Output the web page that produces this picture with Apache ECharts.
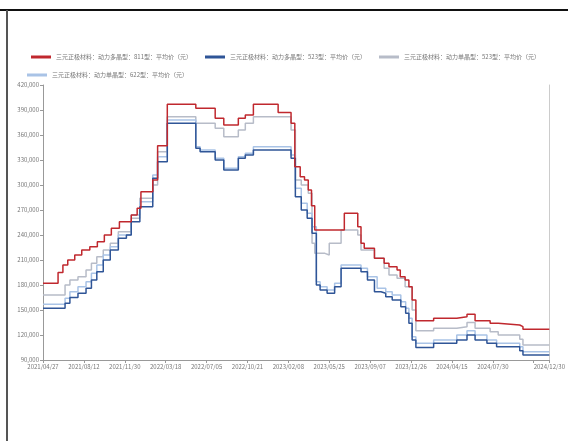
<!DOCTYPE html>
<html><head><meta charset="utf-8">
<script src="https://cdn.jsdelivr.net/npm/echarts@6/dist/echarts.min.js"></script>
<style>html,body{margin:0;padding:0;background:#fff}#c{width:568px;height:441px}</style>
</head><body><div id="c"></div>
<script>
var seriesNames = [
  '三元正极材料：动力多晶型：811型：平均价（元）',
  '三元正极材料：动力多晶型：523型：平均价（元）',
  '三元正极材料：动力单晶型：523型：平均价（元）',
  '三元正极材料：动力单晶型：622型：平均价（元）'
];
var tickLabels = ['2021/04/27','2021/08/12','2021/11/30','2022/03/18','2022/07/05','2022/10/21','2023/02/08','2023/05/25','2023/09/07','2023/12/26','2024/04/15','2024/07/30',''];
var lastLabel = '2024/12/30';
var dayStep = 76, lastDay = 941;
var yTicks = [90000, 420000, 30000];

var red811 = [[0,182000],[28,195000],[37,204000],[46,210000],[59,216000],[72,222000],[87,226000],[101,232000],[114,240000],[127,248000],[142,256000],[164,264000],[175,272000],[182,292000],[204,306000],[213,347000],[231,397000],[284,392000],[320,380000],[336,372000],[363,380000],[376,384000],[391,397000],[437,387000],[461,374000],[468,322000],[478,310000],[486,306000],[493,294000],[499,275000],[505,246000],[560,266000],[585,250000],[591,230000],[597,224000],[616,212000],[634,206000],[643,202000],[658,198000],[664,190000],[673,186000],[680,178000],[686,162000],[693,137000],[726,140000],[769,142000],[788,145000],[803,137000],[831,134000],[846,132000],[886,130000],[892,127000],[941,127000]];
var poly523 = [[0,152000],[41,158000],[50,165000],[65,170000],[80,176000],[90,186000],[100,196000],[112,210000],[125,222000],[140,236000],[155,240000],[164,256000],[180,274000],[204,308000],[213,328000],[231,374000],[284,344000],[292,340000],[320,330000],[336,318000],[363,332000],[376,336000],[391,342000],[461,332000],[469,286000],[480,270000],[491,260000],[500,242000],[508,180000],[515,174000],[528,170000],[542,178000],[554,200000],[591,196000],[603,186000],[616,172000],[628,170000],[637,166000],[649,162000],[665,154000],[674,146000],[680,134000],[686,114000],[693,105000],[726,110000],[769,114000],[788,120000],[803,114000],[825,110000],[843,106000],[886,101000],[892,96000],[941,96000]];
var single523 = [[0,168000],[41,180000],[50,186000],[65,190000],[80,198000],[90,206000],[100,214000],[112,222000],[125,230000],[140,244000],[164,260000],[180,284000],[204,300000],[213,340000],[231,382000],[284,374000],[320,368000],[336,358000],[363,366000],[376,374000],[391,382000],[461,366000],[469,306000],[480,300000],[493,290000],[500,230000],[505,218000],[524,216000],[532,230000],[554,246000],[585,240000],[591,222000],[616,212000],[634,200000],[643,192000],[658,188000],[673,178000],[686,150000],[693,125000],[726,128000],[769,130000],[788,135000],[803,128000],[831,124000],[846,120000],[886,115000],[892,108000],[941,108000]];
var single622 = [[0,157000],[41,164000],[50,172000],[65,178000],[80,184000],[90,194000],[100,204000],[112,216000],[125,226000],[140,240000],[164,264000],[180,280000],[204,312000],[213,334000],[231,378000],[284,346000],[292,342000],[320,332000],[336,320000],[363,334000],[376,338000],[391,346000],[461,336000],[469,296000],[480,278000],[491,266000],[500,250000],[508,184000],[515,178000],[528,174000],[542,182000],[554,204000],[591,200000],[603,190000],[621,176000],[637,172000],[649,168000],[665,160000],[674,152000],[680,140000],[686,118000],[693,110000],[726,114000],[769,120000],[788,125000],[803,120000],[825,114000],[843,110000],[886,106000],[892,100000],[941,100000]];

var colors = ['#c0282e', '#2f5597', '#b7bcc8', '#a9c3e6'];
var allData = [red811, poly523, single523, single622];

var chart = echarts.init(document.getElementById('c'), null, {renderer:'canvas'});
var series = allData.map(function(d, i){
  return {
    name: seriesNames[i], type: 'line', step: 'end', data: d,
    showSymbol: false, symbol: 'none',
    lineStyle: {color: colors[i], width: 1.5},
    itemStyle: {color: colors[i]},
    z: i === 0 ? 5 : (i === 1 ? 4 : 3)
  };
});
var legendBase = {
  itemWidth: 20, itemHeight: 3, itemGap: 13,
  icon: 'rect', orient: 'horizontal',
  textStyle: {fontSize: 6, color: '#777', padding: [0, 0, 0, 0]}
};
chart.setOption({
  animation: false,
  color: colors,
  textStyle: {fontFamily: 'Noto Sans CJK SC'},
  legend: [
    Object.assign({}, legendBase, {left: 26, top: 49, width: 560, data: seriesNames.slice(0, 3)}),
    Object.assign({}, legendBase, {left: 22, top: 67, width: 560, data: seriesNames.slice(3)})
  ],
  grid: {left: 43, right: 15, top: 85, bottom: 81, containLabel: false},
  xAxis: {
    type: 'value', min: 0, max: lastDay, interval: dayStep,
    axisLine: {lineStyle: {color: '#999'}},
    axisTick: {show: true, length: 3, lineStyle: {color: '#999'}},
    splitLine: {show: false},
    axisLabel: {fontSize: 6, color: '#777', margin: 4,
      formatter: function(v){ if (v === lastDay) return lastLabel; return tickLabels[Math.round(v / dayStep)] || ''; }}
  },
  yAxis: [{
    type: 'value', min: yTicks[0], max: yTicks[1], interval: yTicks[2],
    axisLine: {show: true, lineStyle: {color: '#999'}},
    axisTick: {show: true, length: 3, lineStyle: {color: '#999'}},
    splitLine: {show: false},
    axisLabel: {fontSize: 6, color: '#777', margin: 4,
      formatter: function(v){ return v.toLocaleString('en-US'); }}
  }, {
    type: 'value', position: 'right', min: yTicks[0], max: yTicks[1], interval: yTicks[2],
    axisLine: {show: true, lineStyle: {color: '#ccc'}},
    axisTick: {show: false}, axisLabel: {show: false}, splitLine: {show: false}
  }],
  graphic: [
    {type: 'rect', shape: {x: 0, y: 9, width: 568, height: 2}, style: {fill: '#111'}},
    {type: 'rect', shape: {x: 6, y: 10, width: 2, height: 431}, style: {fill: '#555'}}
  ],
  series: series
});
</script></body></html>
